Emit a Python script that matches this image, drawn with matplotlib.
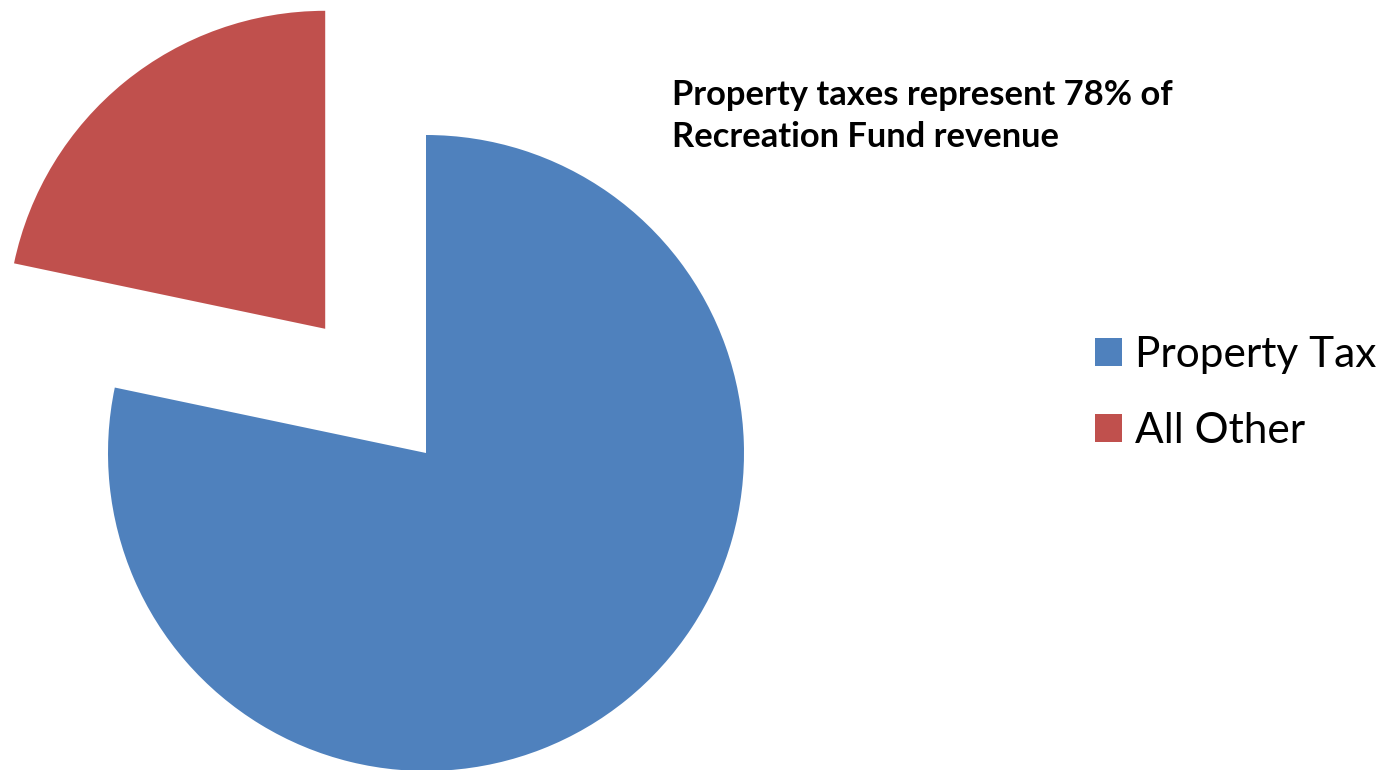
import matplotlib
matplotlib.use("Agg")
import matplotlib.pyplot as plt
from matplotlib.patches import Patch

labels = ["Property Tax", "All Other"]
values = [78.3, 21.7]
colors = ["#4F81BD", "#C0504D"]
explode = [0.0, 0.503]
title_lines = ["Property taxes represent 78% of", "Recreation Fund revenue"]

W, H = 1391, 770
fig = plt.figure(figsize=(W / 100, H / 100), dpi=100)
fig.patch.set_facecolor("white")

ax = fig.add_axes([0, 0, 1, 1])
R = 318.0
cx, cy = 426.0, 453.0  # pixel centre (from top)
wedges, _ = ax.pie(values, colors=colors, explode=explode, startangle=90,
                   counterclock=False, radius=1.0)
ax.set_xlim(-cx / R, (W - cx) / R)
ax.set_ylim(-(H - cy) / R, cy / R)
ax.set_aspect("auto")
ax.axis("off")

fig.text(672 / W, 1 - 105 / H, title_lines[0], fontsize=24.8, fontweight="bold",
         family="Lato", ha="left", va="baseline")
fig.text(672 / W, 1 - 147 / H, title_lines[1], fontsize=24.8, fontweight="bold",
         family="Lato", ha="left", va="baseline")

handles = [Patch(facecolor=c, edgecolor="none") for c in colors]
leg = fig.legend(handles, labels, loc="center left",
                 bbox_to_anchor=(1095 / W, 1 - 393 / H),
                 frameon=False, borderaxespad=0, borderpad=0,
                 handlelength=0.64, handleheight=0.64, handletextpad=0.3,
                 labelspacing=0.9, prop={"family": "Lato", "size": 30.5})

fig.savefig("out.png", dpi=100, facecolor="white")
